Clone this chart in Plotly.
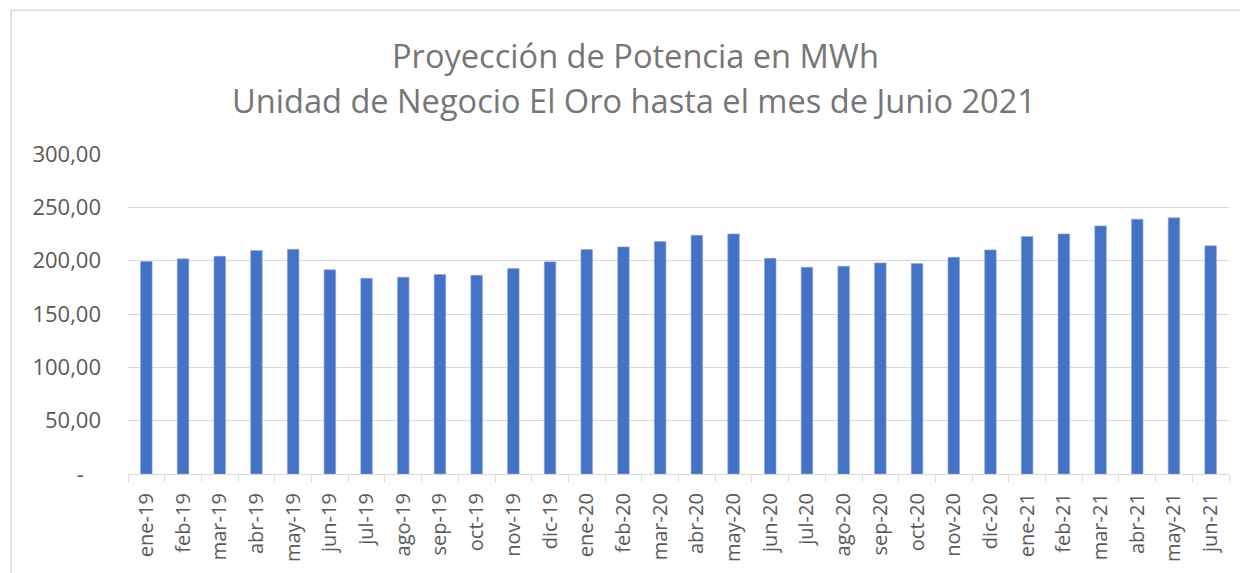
import plotly.graph_objects as go

months = ["ene-19", "feb-19", "mar-19", "abr-19", "may-19", "jun-19", "jul-19", "ago-19",
          "sep-19", "oct-19", "nov-19", "dic-19", "ene-20", "feb-20", "mar-20", "abr-20",
          "may-20", "jun-20", "jul-20", "ago-20", "sep-20", "oct-20", "nov-20", "dic-20",
          "ene-21", "feb-21", "mar-21", "abr-21", "may-21", "jun-21"]
potencia_mwh = [199.2, 201.7, 204.1, 209.5, 210.7, 191.4, 183.5, 184.5,
                187.0, 186.3, 192.6, 198.9, 210.4, 212.9, 217.9, 223.8,
                225.1, 202.2, 193.8, 194.8, 197.9, 197.3, 203.2, 210.1,
                222.6, 225.1, 232.6, 238.9, 240.2, 213.9]
y_tickvals = [0, 50, 100, 150, 200, 250, 300]
y_ticktext = ["-\u00a0\u00a0\u00a0", "50,00", "100,00", "150,00", "200,00", "250,00", "300,00"]
title_line1 = "Proyección de Potencia en MWh"
title_line2 = "Unidad de Negocio El Oro hasta el mes de Junio 2021"

OFF = 8  # page body margin
W, H = 1248 - OFF, 573 - OFF
L, R, T, B = 128 - OFF, 19, 154 - OFF, 98.5
ph = H - T - B
pw = W - L - R

def py(ypix):
    return (H - B - (ypix - OFF)) / ph

def px(xpix):
    return ((xpix - OFF) - L) / pw

fig = go.Figure(go.Bar(
    x=months, y=potencia_mwh,
    marker=dict(color="#4472C4", line=dict(color="#8FAADC", width=0.6)),
))

font = "Open Sans, Noto Sans, sans-serif"
fig.update_layout(
    width=W, height=H,
    margin=dict(l=L, r=R, t=T, b=B, pad=0, autoexpand=False),
    paper_bgcolor="white", plot_bgcolor="white",
    bargap=0.685,
    showlegend=False,
    font=dict(family=font, color="#595959"),
    xaxis=dict(
        type="category", tickangle=-90, automargin=False,
        tickson="boundaries", ticks="outside", ticklen=7, tickcolor="#D9D9D9", tickwidth=1.3,
        showline=True, linecolor="#D9D9D9", linewidth=1.3,
        showgrid=False, tickfont=dict(size=20, color="#595959"),
        ticklabelstandoff=10,
    ),
    yaxis=dict(
        range=[0, 300], tickvals=y_tickvals, ticktext=y_ticktext, automargin=False,
        showgrid=True, gridcolor="#D9D9D9", gridwidth=1.3,
        zeroline=False, showline=False, ticks="",
        tickfont=dict(size=22, color="#595959"),
        ticklabelstandoff=26,
    ),
    annotations=[
        dict(text=title_line1, xref="paper", yref="paper", x=px(635), y=py(55),
             xanchor="center", yanchor="middle", showarrow=False,
             font=dict(size=32.6, color="#767676", family=font)),
        dict(text=title_line2, xref="paper", yref="paper", x=px(634), y=py(100),
             xanchor="center", yanchor="middle", showarrow=False,
             font=dict(size=32.6, color="#767676", family=font)),
    ],
    shapes=[
        dict(type="rect", xref="paper", yref="paper",
             x0=px(11), x1=px(1270), y0=py(600), y1=py(10),
             line=dict(color="#D9D9D9", width=1.5), fillcolor="rgba(0,0,0,0)", layer="below"),
    ],
)

fig.write_html("out.html")
